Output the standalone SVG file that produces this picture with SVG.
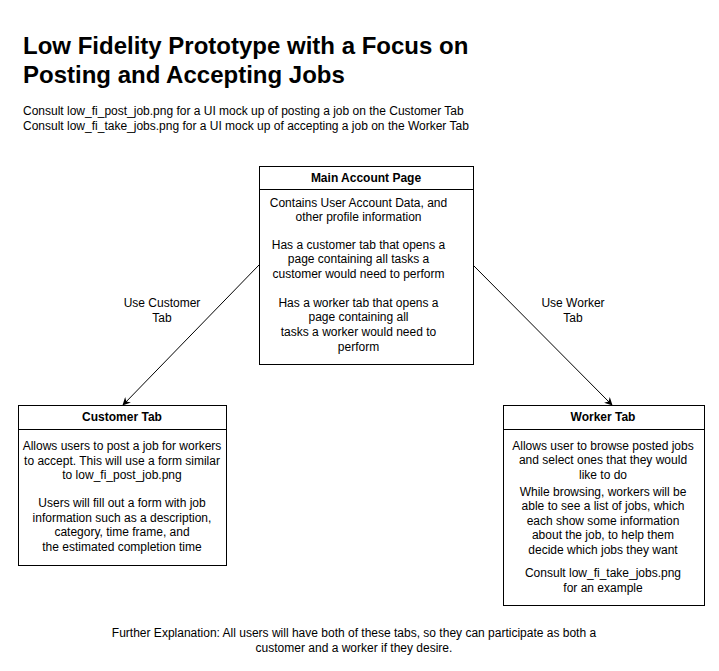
<svg xmlns="http://www.w3.org/2000/svg" width="719" height="671" viewBox="0 0 719 671">
<defs>
<marker id="arr" viewBox="0 0 10 10" refX="9" refY="5" markerWidth="8" markerHeight="8" markerUnits="userSpaceOnUse" orient="auto">
<path d="M0,0 L10,5 L0,10 L3,5 Z" fill="#000"/>
</marker>
<style>
text{font-family:"Liberation Sans",Arial,sans-serif;fill:#000}
.t{font-size:12px;text-anchor:middle}
.h{font-size:12px;font-weight:bold;text-anchor:middle}
.box{fill:#fff;stroke:#000;stroke-width:1}
.edge{stroke:#000;stroke-width:1;fill:none}
</style>
</defs>
<rect width="719" height="671" fill="#fff"/>
<text x="23" y="54" font-size="24" font-weight="bold">Low Fidelity Prototype with a Focus on</text>
<text x="23" y="83" font-size="24" font-weight="bold">Posting and Accepting Jobs</text>
<text x="23" y="115" font-size="12">Consult low_fi_post_job.png for a UI mock up of posting a job on the Customer Tab</text>
<text x="23" y="130" font-size="12">Consult low_fi_take_jobs.png for a UI mock up of accepting a job on the Worker Tab</text>
<g id="connectors">
<line class="edge" x1="259" y1="265" x2="123" y2="405" marker-end="url(#arr)"/>
<line class="edge" x1="473" y1="265" x2="612" y2="405" marker-end="url(#arr)"/>
<text class="t" x="162" y="307">Use Customer</text>
<text class="t" x="162" y="322">Tab</text>
<text class="t" x="573" y="307">Use Worker</text>
<text class="t" x="573" y="322">Tab</text>
</g>
<g id="main">
<rect class="box" x="259.5" y="166.5" width="214" height="198"/>
<line class="edge" x1="259.5" y1="189.5" x2="473.5" y2="189.5"/>
<text class="h" x="366" y="182">Main Account Page</text>
<text class="t" x="358.5" y="207">Contains User Account Data, and</text>
<text class="t" x="358.5" y="221">other profile information</text>
<text class="t" x="358.5" y="249">Has a customer tab that opens a</text>
<text class="t" x="358.5" y="263">page containing all tasks a</text>
<text class="t" x="358.5" y="278">customer would need to perform</text>
<text class="t" x="358.5" y="307">Has a worker tab that opens a</text>
<text class="t" x="358.5" y="321">page containing all</text>
<text class="t" x="358.5" y="336">tasks a worker would need to</text>
<text class="t" x="358.5" y="351">perform</text>
</g>
<g id="customer">
<rect class="box" x="18.5" y="405.5" width="208" height="160"/>
<line class="edge" x1="18.5" y1="429.5" x2="226.5" y2="429.5"/>
<text class="h" x="122" y="421">Customer Tab</text>
<text class="t" x="122" y="450">Allows users to post a job for workers</text>
<text class="t" x="122" y="465">to accept. This will use a form similar</text>
<text class="t" x="122" y="479">to low_fi_post_job.png</text>
<text class="t" x="122" y="507">Users will fill out a form with job</text>
<text class="t" x="122" y="522">information such as a description,</text>
<text class="t" x="122" y="536">category, time frame, and</text>
<text class="t" x="122" y="551">the estimated completion time</text>
</g>
<g id="worker">
<rect class="box" x="503.5" y="405.5" width="201" height="200"/>
<line class="edge" x1="503.5" y1="429.5" x2="704.5" y2="429.5"/>
<text class="h" x="603" y="421">Worker Tab</text>
<text class="t" x="603" y="450">Allows user to browse posted jobs</text>
<text class="t" x="603" y="464">and select ones that they would</text>
<text class="t" x="603" y="479">like to do</text>
<text class="t" x="603" y="496">While browsing, workers will be</text>
<text class="t" x="603" y="510">able to see a list of jobs, which</text>
<text class="t" x="603" y="525">each show some information</text>
<text class="t" x="603" y="539">about the job, to help them</text>
<text class="t" x="603" y="554">decide which jobs they want</text>
<text class="t" x="603" y="577">Consult low_fi_take_jobs.png</text>
<text class="t" x="603" y="592">for an example</text>
</g>
<text class="t" x="354" y="637">Further Explanation: All users will have both of these tabs, so they can participate as both a</text>
<text class="t" x="354" y="652">customer and a worker if they desire.</text>
</svg>
